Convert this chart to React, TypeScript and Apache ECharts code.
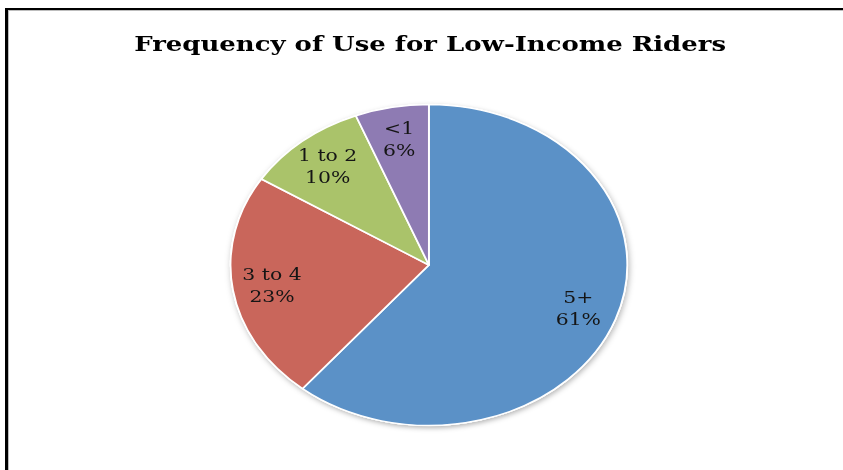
import React, { useEffect, useRef } from "react";
import * as echarts from "echarts";

const titleText = "Frequency of Use for Low-Income Riders";
const categories = ["5+", "3 to 4", "1 to 2", "<1"];
const values = [61, 23, 10, 6];
const colors = ["#5B91C7", "#C9665B", "#AAC36A", "#8E7BB3"];

const STRETCH = 1.236;
const CHART_W = 700;
const CHART_H = 470;

export default function App() {
  const ref = useRef<HTMLDivElement>(null);

  useEffect(() => {
    if (!ref.current) return;
    const chart = echarts.init(ref.current, null, { renderer: "svg" });
    const data = categories.map((name, i) => ({
      name,
      value: values[i],
      itemStyle: { color: colors[i] },
    }));
    const shadowData = categories.map((name, i) => ({ name, value: values[i] }));
    const center = [347, 265];
    chart.setOption({
      animation: false,
      backgroundColor: "transparent",
      title: {
        text: titleText,
        left: 343,
        top: 28,
        textAlign: "center",
        textStyle: {
          fontFamily: "DejaVu Serif",
          fontWeight: "bold",
          fontSize: 21,
          color: "#000000",
        },
      },
      series: [
        {
          type: "pie",
          silent: true,
          center,
          radius: [0, 161],
          startAngle: 90,
          clockwise: true,
          label: { show: false },
          labelLine: { show: false },
          itemStyle: {
            color: "#ffffff",
            borderWidth: 0,
            shadowBlur: 5,
            shadowOffsetX: 1,
            shadowOffsetY: 2,
            shadowColor: "rgba(0,0,0,0.3)",
          },
          data: shadowData,
        },
        {
          type: "pie",
          silent: true,
          center,
          radius: [0, 160.5],
          startAngle: 90,
          clockwise: true,
          label: { show: false },
          labelLine: { show: false },
          itemStyle: {
            borderColor: "#ffffff",
            borderWidth: 1.5,
          },
          data,
        },
        {
          type: "pie",
          silent: true,
          center,
          radius: [90, 161],
          startAngle: 90,
          clockwise: true,
          itemStyle: { color: "rgba(0,0,0,0)", borderWidth: 0 },
          label: {
            show: true,
            position: "inside",
            formatter: (p: any) => `${p.name}\n${Math.round(p.percent)}%`,
            fontFamily: "DejaVu Serif",
            fontSize: 16.5,
            lineHeight: 22,
            color: "#151515",
            align: "center",
          },
          labelLine: { show: false },
          data: shadowData,
        },
      ],
    });
    return () => chart.dispose();
  }, []);

  return (
    <div
      style={{
        position: "fixed",
        left: 0,
        top: 0,
        width: 843,
        height: 470,
        overflow: "hidden",
        background: "#fff",
      }}
    >
      <div
        style={{
          position: "absolute",
          left: 5,
          top: 8,
          width: 1000,
          height: 1000,
          borderTop: "2px solid #000",
          borderLeft: "3px solid #000",
        }}
      />
      <div
        style={{
          position: "absolute",
          left: 8,
          top: 10,
          width: 1000,
          height: 1000,
          borderTop: "1px solid #bdbdbd",
          borderLeft: "1px solid #bdbdbd",
        }}
      />
      <div
        ref={ref}
        style={{
          position: "absolute",
          left: 0,
          top: 0,
          width: CHART_W,
          height: CHART_H,
          transform: `scaleX(${STRETCH})`,
          transformOrigin: "0 0",
        }}
      />
    </div>
  );
}
